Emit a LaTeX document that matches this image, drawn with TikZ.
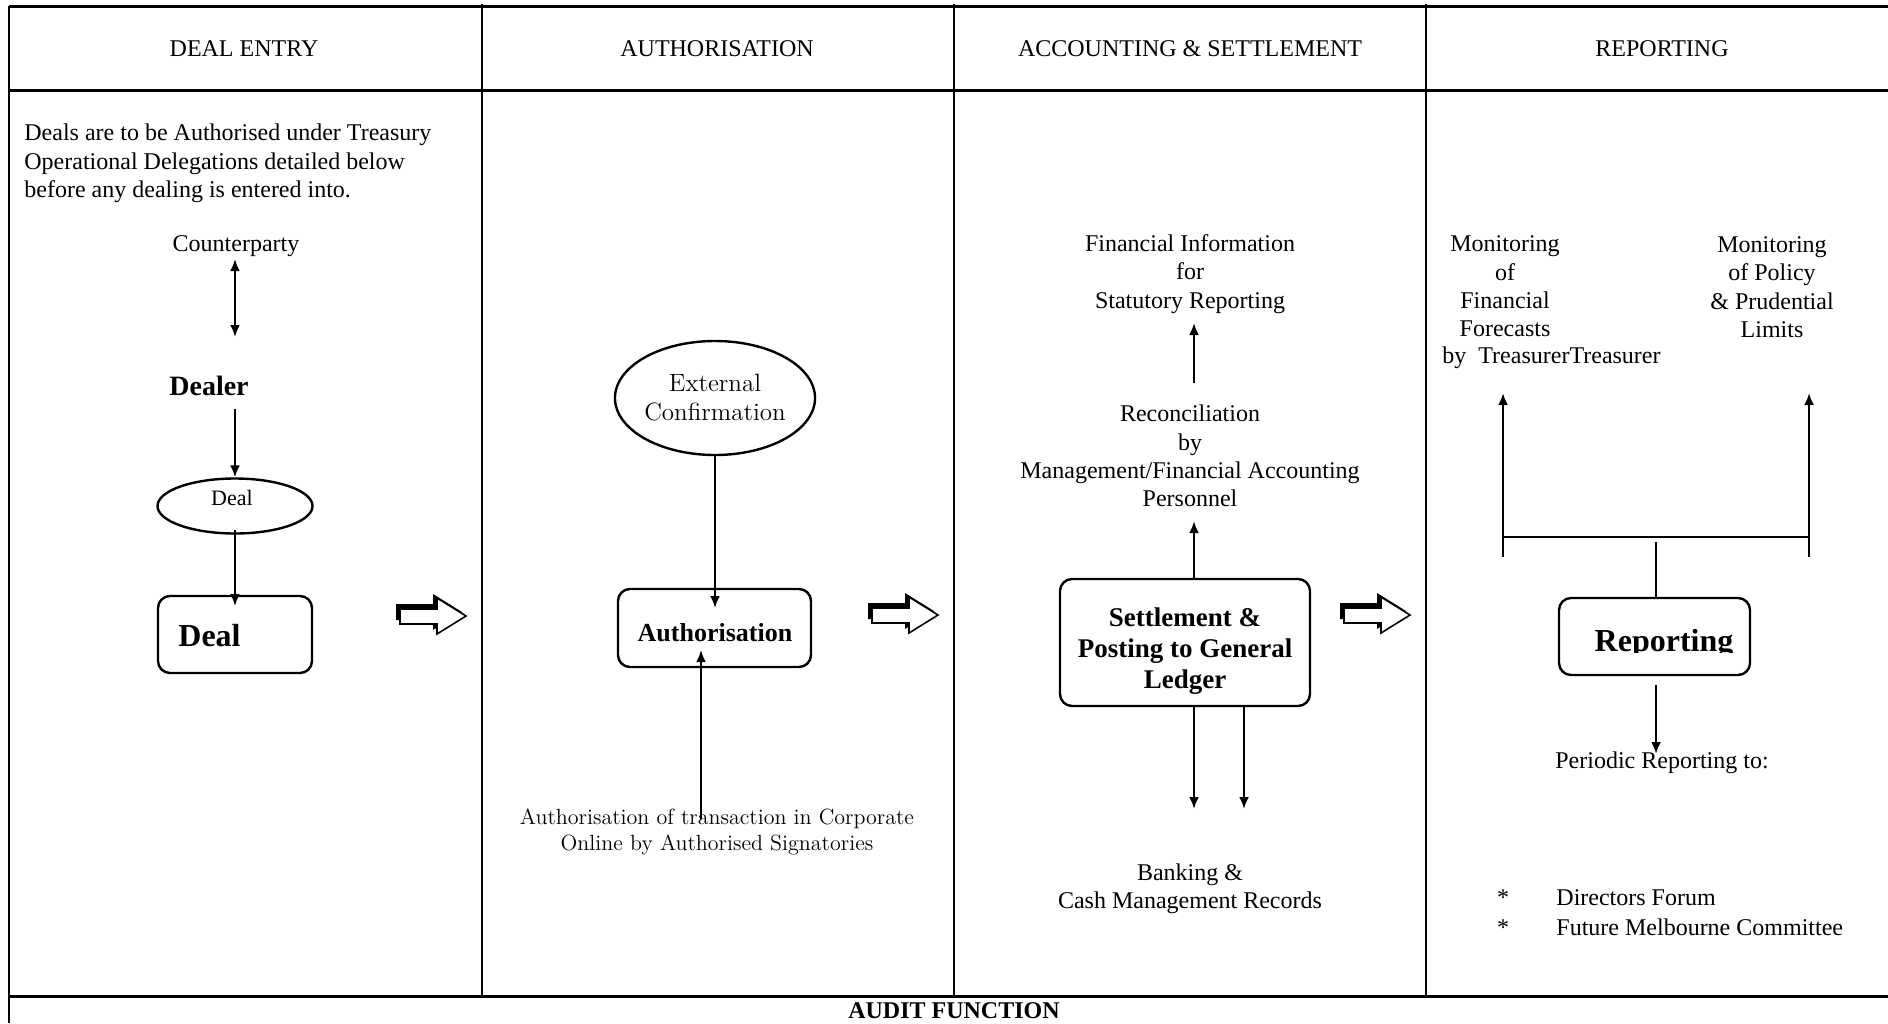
\documentclass[tikz,border=0pt]{standalone}
\usepackage{fontspec}
\setmainfont{Liberation Serif}
\usetikzlibrary{arrows.meta,shapes.geometric}
\newcommand\myfs[2]{\fontsize{#1}{#2}\selectfont}
\tikzset{
 hline/.style={line width=1.5pt},
 vline/.style={line width=1pt},
 arr/.style={line width=1.2pt,-{Latex[length=6pt,width=5pt]}},
 darr/.style={line width=1.2pt,{Latex[length=6pt,width=5pt]}-{Latex[length=6pt,width=5pt]}},
 plainln/.style={line width=1.2pt},
 rbox/.style={draw,line width=1.2pt,rounded corners=6pt,inner sep=0pt},
 ell/.style={draw,ellipse,line width=1.2pt,inner sep=0pt},
 txt/.style={inner sep=0pt,align=center,font=\myfs{12}{14.2}},
 lmtxt/.style={inner sep=0pt,align=center,font=\fontfamily{lmr}\selectfont\myfs{11}{13.2}},
 blockarr/.pic={
  \fill[black] (-4,-12) -- (33,-12) -- (33,-22) -- (62,-4) -- (33,14) -- (33,4) -- (-4,4) -- cycle;
  \draw[fill=white,line width=0.8pt,line join=miter] (0,-7) -- (37,-7) -- (37,-18) -- (66,0) -- (37,18) -- (37,8) -- (0,8) -- cycle;
 }
}
\begin{document}
\begin{tikzpicture}[x=0.5pt,y=-0.5pt]
\useasboundingbox (0,0) rectangle (1888,1023);
% table
\draw[hline] (9,6) -- (1888,6);
\draw[hline] (9,90) -- (1888,90);
\draw[hline] (9,996) -- (1888,996);
\draw[vline] (9,6) -- (9,1023);
\draw[vline] (482,4) -- (482,996);
\draw[vline] (954,4) -- (954,996);
\draw[vline] (1426,4) -- (1426,996);
% headers
\node[txt] (h1) at (244,49) {DEAL ENTRY};
\node[txt] (h2) at (717,49) {AUTHORISATION};
\node[txt] (h3) at (1190,49) {ACCOUNTING \& SETTLEMENT};
\node[txt] (h4) at (1662,49) {REPORTING};
\node[txt,font=\bfseries\myfs{12}{14}] (audit) at (954,1011) {AUDIT FUNCTION};
% column 1
\node[txt,align=left,anchor=west] (para) at (24,163.5) {Deals are to be Authorised under Treasury\\Operational Delegations detailed below\\before any dealing is entered into.};
\node[txt] (cpty) at (236,246) {Counterparty};
\node[txt,font=\bfseries\myfs{14}{16}] (dealer) at (209,386) {Dealer};
\node[ell,minimum width=77.5pt,minimum height=27.5pt] (dealell) at (235,506) {};
\node[inner sep=0pt,font=\myfs{11}{13}] (dealelltxt) at (232,498) {Deal};
\node[rbox,minimum width=77pt,minimum height=38.5pt] (dealbox) at (235,634.5) {};
\node[inner sep=0pt,anchor=west,font=\bfseries\myfs{16}{18}] (dealtxt) at (178,636) {Deal};
\coordinate (c1a) at (235,259);
\coordinate (c1b) at (235,337);
\draw[darr] (c1a) -- (c1b);
\coordinate (c2a) at (235,409);
\draw[arr] (c2a) -- (dealell.north);
\coordinate (c3a) at (235,530);
\coordinate (c3b) at (235,606);
\draw[arr] (c3a) -- (c3b);
\pic at (400,616) {blockarr};
% column 2
\node[ell,minimum width=96.5pt,minimum height=57pt,align=center,font=\fontfamily{lmr}\selectfont\myfs{12.5}{14.5}] (extell) at (715,398) {External\\Confirmation};
\node[rbox,minimum width=96.5pt,minimum height=39pt] (authbox) at (714.5,628) {};
\node[inner sep=0pt,font=\bfseries\myfs{13}{15}] (authboxtxt) at (715,633) {Authorisation};
\coordinate (c4b) at (715,608);
\draw[arr] (extell.south) -- (c4b);
\node[lmtxt] (authtxt) at (717,832) {Authorisation of transaction in Corporate\\Online by Authorised Signatories};
\coordinate (c5a) at (701,819);
\coordinate (c5b) at (701,650);
\draw[arr] (c5a) -- (c5b);
\pic at (872,615) {blockarr};
% column 3
\node[txt] (finfo) at (1190,274) {Financial Information\\for\\Statutory Reporting};
\node[txt] (recon) at (1190,456) {Reconciliation\\by\\Management/Financial Accounting\\Personnel};
\node[rbox,minimum width=125pt,minimum height=63.5pt] (setbox) at (1185,642.5) {};
\node[inner sep=0pt,align=center,font=\bfseries\myfs{13.5}{15.6}] (setboxtxt) at (1185,651) {Settlement \&\\Posting to General\\Ledger};
\node[txt] (bank) at (1190,889) {Banking \&\\Cash Management Records};
\coordinate (c6a) at (1194,579);
\coordinate (c6b) at (1194,521);
\draw[arr] (c6a) -- (c6b);
\coordinate (c7a) at (1194,383);
\coordinate (c7b) at (1194,323);
\draw[arr] (c7a) -- (c7b);
\coordinate (c8a) at (1194,706);
\coordinate (c8b) at (1194,809);
\coordinate (c9a) at (1244,706);
\coordinate (c9b) at (1244,809);
\draw[arr] (c8a) -- (c8b);
\draw[arr] (c9a) -- (c9b);
\pic at (1344,615) {blockarr};
% column 4
\node[txt] (monl) at (1505,286.5) {Monitoring\\of\\Financial\\Forecasts};
\node[txt,anchor=west] (monl2) at (1442,358) {by\ \ TreasurerTreasurer};
\node[txt] (monr) at (1772,287) {Monitoring\\of Policy\\\& Prudential\\Limits};
\node[rbox,minimum width=95.5pt,minimum height=38.5pt] (repbox) at (1654.5,636.5) {};
\begin{scope}
\clip (1562,600) rectangle (1748,652);
\node[inner sep=0pt,anchor=base,font=\bfseries\myfs{16}{18}] (reptxt) at (1664,651) {Reporting};
\end{scope}
\coordinate (r1) at (1503,557);
\coordinate (r1t) at (1503,393);
\coordinate (r2) at (1809,557);
\coordinate (r2t) at (1809,393);
\coordinate (rb1) at (1503,537);
\coordinate (rb2) at (1809,537);
\coordinate (rs) at (1656,542);
\draw[arr] (r1) -- (r1t);
\draw[arr] (r2) -- (r2t);
\draw[plainln] (rb1) -- (rb2);
\draw[plainln] (rs) -- (rs |- repbox.north);
\node[txt] (periodic) at (1662,763) {Periodic Reporting to:};
\coordinate (r3a) at (1656,685);
\coordinate (r3b) at (1656,754);
\draw[arr] (r3a) -- (r3b);
\node[txt,font=\myfs{12}{15}] (stars) at (1503,913) {*\\*};
\node[txt,align=left,anchor=west,font=\myfs{12}{15}] (dirs) at (1556,913) {Directors Forum\\Future Melbourne Committee};
\end{tikzpicture}
\end{document}
